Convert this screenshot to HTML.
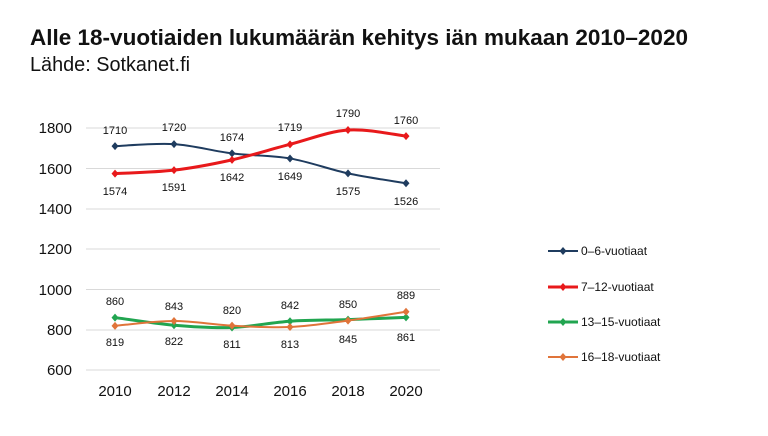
<!DOCTYPE html>
<html><head><meta charset="utf-8"><style>
html,body{margin:0;padding:0;background:#fff;}
svg{display:block;font-family:"Liberation Sans",sans-serif;}
</style></head><body>
<svg id="s" width="768" height="436" viewBox="0 0 768 436">
<text x="30" y="45" font-size="22" font-weight="bold" fill="#111" textLength="658" lengthAdjust="spacingAndGlyphs">Alle 18-vuotiaiden lukumäärän kehitys iän mukaan 2010–2020</text>
<text x="30" y="71" font-size="20" fill="#111" textLength="160" lengthAdjust="spacingAndGlyphs">Lähde: Sotkanet.fi</text>
<g stroke="#d9d9d9" stroke-width="1">
<line x1="86" x2="440" y1="128" y2="128"/><line x1="86" x2="440" y1="168.5" y2="168.5"/>
<line x1="86" x2="440" y1="209" y2="209"/><line x1="86" x2="440" y1="249" y2="249"/>
<line x1="86" x2="440" y1="289.5" y2="289.5"/><line x1="86" x2="440" y1="330" y2="330"/>
<line x1="86" x2="440" y1="370" y2="370"/></g>
<g font-size="15" fill="#111" text-anchor="end">
<text x="72" y="133">1800</text><text x="72" y="174">1600</text><text x="72" y="214">1400</text>
<text x="72" y="254">1200</text><text x="72" y="295">1000</text><text x="72" y="335">800</text><text x="72" y="375">600</text></g>
<g font-size="15" fill="#111" text-anchor="middle">
<text x="115" y="396">2010</text><text x="174" y="396">2012</text><text x="232" y="396">2014</text>
<text x="290" y="396">2016</text><text x="348" y="396">2018</text><text x="406" y="396">2020</text></g>
<g id="series"></g>
<g font-size="11" fill="#111" text-anchor="middle">
<text x="115" y="134">1710</text><text x="174" y="131">1720</text><text x="232" y="141">1674</text>
<text x="290" y="180">1649</text><text x="348" y="195">1575</text><text x="406" y="205">1526</text>
<text x="115" y="195">1574</text><text x="174" y="191">1591</text><text x="232" y="181">1642</text>
<text x="290" y="131">1719</text><text x="348" y="117">1790</text><text x="406" y="124">1760</text>
<text x="115" y="305">860</text><text x="174" y="310">843</text><text x="232" y="314">820</text>
<text x="290" y="309">842</text><text x="348" y="308">850</text><text x="406" y="299">889</text>
<text x="115" y="346">819</text><text x="174" y="345">822</text><text x="232" y="348">811</text>
<text x="290" y="348">813</text><text x="348" y="343">845</text><text x="406" y="341">861</text>
</g>
<g font-size="12" fill="#111">
<text x="581" y="255">0–6-vuotiaat</text><text x="581" y="291">7–12-vuotiaat</text>
<text x="581" y="326">13–15-vuotiaat</text><text x="581" y="361">16–18-vuotiaat</text></g>
<g id="legend"></g>
</svg>
<script>
var xs=[115,174,232,290,348,406];
function y(v){return 370-(v-600)*242/1200;}
var S=[["#1f3c5f",[1710,1720,1674,1649,1575,1526],2,251],
["#e8191b",[1574,1591,1642,1719,1790,1760],3,287],
["#21a550",[860,822,811,842,850,861],3,322],
["#e0743a",[819,843,820,813,845,889],2,357]];
var out="",lg="";
function dia(x,yy,c){return '<path d="M'+x+' '+(yy-4)+'L'+(x+3.5)+' '+yy+'L'+x+' '+(yy+4)+'L'+(x-3.5)+' '+yy+'Z" fill="'+c+'"/>';}
S.forEach(function(s){
var p=s[1].map(function(v,i){return [xs[i],y(v)];});
var d="M"+p[0][0]+" "+p[0][1];
for(var i=0;i<p.length-1;i++){
var p0=p[i-1]||p[i],p1=p[i],p2=p[i+1],p3=p[i+2]||p[i+1],t=6;
d+=" C"+(p1[0]+(p2[0]-p0[0])/t)+" "+(p1[1]+(p2[1]-p0[1])/t)+" "+(p2[0]-(p3[0]-p1[0])/t)+" "+(p2[1]-(p3[1]-p1[1])/t)+" "+p2[0]+" "+p2[1];}
out+='<path d="'+d+'" fill="none" stroke="'+s[0]+'" stroke-width="'+s[2]+'"/>';
p.forEach(function(q){out+=dia(q[0],q[1],s[0]);});
lg+='<line x1="548" x2="578" y1="'+s[3]+'" y2="'+s[3]+'" stroke="'+s[0]+'" stroke-width="'+s[2]+'"/>'+dia(563,s[3],s[0]);
});
document.getElementById("series").innerHTML=out;
document.getElementById("legend").innerHTML=lg;
</script>
</body></html>
